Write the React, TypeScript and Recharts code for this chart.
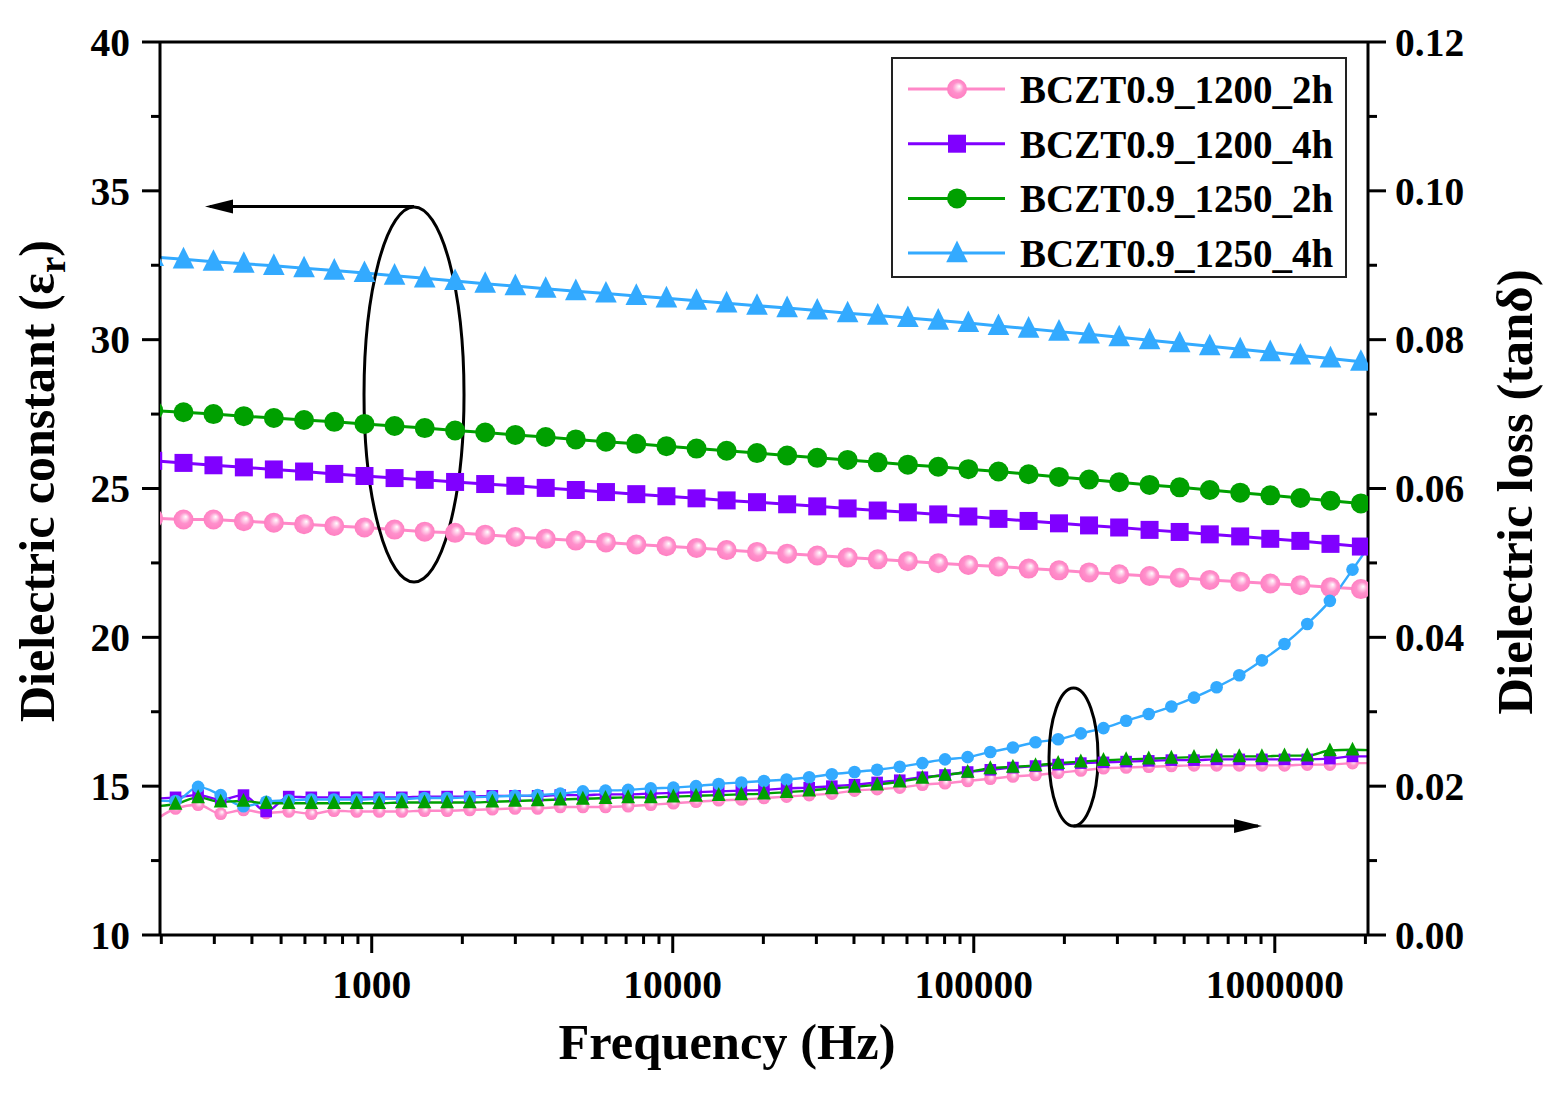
import React from 'react';
import { LineChart, Line, XAxis, YAxis, ReferenceLine, ReferenceDot, Legend } from 'recharts';

const W = 1558;
const H = 1104;
const FONT = '"Liberation Serif", "Times New Roman", serif';

const PINK = '#FF88C8';
const PURPLE = '#8000FF';
const GREEN = '#00A000';
const BLUE = '#33AAFF';

// ---- dielectric constant (left axis) ----
const epsFreq = [
  188,
  237, 298, 376, 473, 596, 751, 946, 1191, 1500, 1892,
  2382, 3000, 3784, 4764, 6000, 7568, 9528, 11995, 15100, 19050,
  23990, 30200, 38100, 47970, 60400, 76200, 95940, 120800, 152100, 191900,
  241500, 304100, 383700, 483100, 608100, 767400, 966000, 1216000, 1531000, 1932000,
  2430000,
];
const eps1200_2h = [
  24.00,
  23.96, 23.96, 23.90, 23.85, 23.80, 23.74, 23.69, 23.62, 23.55, 23.51,
  23.45, 23.37, 23.31, 23.25, 23.19, 23.12, 23.06, 23.00, 22.93, 22.87,
  22.81, 22.75, 22.68, 22.62, 22.56, 22.49, 22.43, 22.38, 22.31, 22.25,
  22.18, 22.12, 22.06, 22.00, 21.93, 21.87, 21.81, 21.75, 21.68, 21.62,
  21.56,
];
const eps1200_4h = [
  25.93,
  25.86, 25.78, 25.71, 25.64, 25.57, 25.49, 25.42, 25.35, 25.29, 25.22,
  25.15, 25.09, 25.02, 24.95, 24.88, 24.81, 24.74, 24.67, 24.60, 24.54,
  24.47, 24.40, 24.33, 24.26, 24.20, 24.13, 24.06, 23.98, 23.91, 23.83,
  23.76, 23.69, 23.61, 23.54, 23.46, 23.39, 23.31, 23.24, 23.14, 23.05,
  22.97,
];
const eps1250_2h = [
  27.62,
  27.56, 27.50, 27.43, 27.37, 27.30, 27.24, 27.17, 27.10, 27.03, 26.95,
  26.88, 26.80, 26.73, 26.65, 26.57, 26.50, 26.42, 26.34, 26.27, 26.19,
  26.11, 26.03, 25.96, 25.88, 25.80, 25.73, 25.65, 25.57, 25.48, 25.39,
  25.30, 25.21, 25.12, 25.04, 24.95, 24.86, 24.77, 24.68, 24.59, 24.50,
  24.41,
];
const eps1250_4h = [
  32.78,
  32.70, 32.62, 32.55, 32.48, 32.40, 32.32, 32.24, 32.15, 32.06, 31.97,
  31.88, 31.80, 31.71, 31.63, 31.55, 31.47, 31.39, 31.31, 31.22, 31.14,
  31.06, 30.98, 30.89, 30.81, 30.73, 30.64, 30.56, 30.46, 30.37, 30.27,
  30.18, 30.08, 29.98, 29.88, 29.78, 29.68, 29.58, 29.47, 29.37, 29.26,
  29.16,
];

// ---- dielectric loss (right axis) ----
const lossFreq = [
  187.5,
  223, 265, 315, 375, 446, 530, 630, 749, 891, 1059,
  1259, 1497, 1780, 2116, 2516, 2992, 3557, 4229, 5029, 5979,
  7109, 8453, 10050, 11950, 14210, 16900, 20090, 23890, 28400, 33770,
  40160, 47750, 56770, 67500, 80260, 95430, 113500, 134900, 160400, 190700,
  226800, 269700, 320700, 381300, 453300, 539000, 640900, 762100, 906100, 1077000,
  1282000, 1524000, 1812000, 2155000,
];
const loss1200_2h = [
  0.0152,
  0.0170, 0.0175, 0.0163, 0.0168, 0.0164, 0.0166, 0.0163, 0.0167, 0.0166, 0.0166,
  0.0166, 0.0167, 0.0167, 0.0168, 0.0169, 0.0170, 0.0170, 0.0172, 0.0172, 0.0172,
  0.0173, 0.0175, 0.0177, 0.0179, 0.0181, 0.0182, 0.0184, 0.0186, 0.0188, 0.0190,
  0.0194, 0.0196, 0.0198, 0.0202, 0.0204, 0.0207, 0.0210, 0.0213, 0.0215, 0.0218,
  0.0221, 0.0224, 0.0225, 0.0226, 0.0227, 0.0228, 0.0228, 0.0228, 0.0228, 0.0228,
  0.0229, 0.0229, 0.0231, 0.0231,
];
const loss1200_4h = [
  0.0183,
  0.0185, 0.0188, 0.0182, 0.0188, 0.0166, 0.0186, 0.0185, 0.0185, 0.0185, 0.0185,
  0.0185, 0.0186, 0.0186, 0.0186, 0.0187, 0.0187, 0.0187, 0.0188, 0.0188, 0.0189,
  0.0189, 0.0190, 0.0191, 0.0192, 0.0193, 0.0194, 0.0195, 0.0197, 0.0198, 0.0200,
  0.0202, 0.0205, 0.0208, 0.0212, 0.0215, 0.0219, 0.0222, 0.0225, 0.0227, 0.0229,
  0.0231, 0.0232, 0.0233, 0.0234, 0.0235, 0.0235, 0.0236, 0.0236, 0.0236, 0.0236,
  0.0236, 0.0237, 0.0240, 0.0240,
];
const loss1250_2h = [
  0.0173,
  0.0176, 0.0185, 0.0179, 0.0180, 0.0177, 0.0177, 0.0177, 0.0177, 0.0177, 0.0177,
  0.0178, 0.0178, 0.0178, 0.0178, 0.0179, 0.0180, 0.0181, 0.0182, 0.0183, 0.0184,
  0.0185, 0.0185, 0.0186, 0.0187, 0.0188, 0.0189, 0.0190, 0.0192, 0.0194, 0.0197,
  0.0199, 0.0202, 0.0206, 0.0211, 0.0215, 0.0219, 0.0224, 0.0226, 0.0228, 0.0231,
  0.0233, 0.0235, 0.0236, 0.0237, 0.0238, 0.0239, 0.0240, 0.0240, 0.0240, 0.0241,
  0.0241, 0.0248, 0.0249, 0.0248,
];
const loss1250_4h = [
  0.0181,
  0.0180, 0.0199, 0.0188, 0.0173, 0.0179, 0.0181, 0.0182, 0.0182, 0.0182, 0.0183,
  0.0183, 0.0184, 0.0184, 0.0185, 0.0186, 0.0187, 0.0188, 0.0190, 0.0193, 0.0194,
  0.0195, 0.0197, 0.0198, 0.0200, 0.0203, 0.0205, 0.0207, 0.0209, 0.0212, 0.0216,
  0.0219, 0.0222, 0.0226, 0.0231, 0.0236, 0.0239, 0.0246, 0.0252, 0.0259, 0.0263,
  0.0271, 0.0278, 0.0288, 0.0297, 0.0307, 0.0319, 0.0333, 0.0349, 0.0369, 0.0391,
  0.0418, 0.0449, 0.0491, 0.0535,
];

const seriesNames = ['BCZT0.9_1200_2h', 'BCZT0.9_1200_4h', 'BCZT0.9_1250_2h', 'BCZT0.9_1250_4h'];

// ---- axis ticks ----
const xTicks = [
  200, 300, 400, 500, 600, 700, 800, 900,
  1000, 2000, 3000, 4000, 5000, 6000, 7000, 8000, 9000,
  10000, 20000, 30000, 40000, 50000, 60000, 70000, 80000, 90000,
  100000, 200000, 300000, 400000, 500000, 600000, 700000, 800000, 900000,
  1000000, 2000000,
];
const xMajor = [1000, 10000, 100000, 1000000];
const yLeftTicks = [10, 12.5, 15, 17.5, 20, 22.5, 25, 27.5, 30, 32.5, 35, 37.5, 40];
const yRightTicks = [0, 0.01, 0.02, 0.03, 0.04, 0.05, 0.06, 0.07, 0.08, 0.09, 0.1, 0.11, 0.12];

const toPoints = (freqs: number[], vals: number[]) =>
  vals.map((v, i) => ({ f: freqs[i], v }));

type Kind = 'ball' | 'circle' | 'square' | 'triangle';

const BallGradient = ({ id }: { id: string }) => (
  <defs>
    <radialGradient id={id} cx="50%" cy="50%" r="50%" fx="62%" fy="36%">
      <stop offset="0%" stopColor="#FFFFFF" />
      <stop offset="22%" stopColor="#FFD2EA" />
      <stop offset="55%" stopColor="#FF90CC" />
      <stop offset="100%" stopColor="#FF80C2" />
    </radialGradient>
  </defs>
);

function marker(kind: Kind, cx: number, cy: number, size: number, color: string, gradId: string) {
  if (kind === 'ball') return <circle cx={cx} cy={cy} r={size} fill={`url(#${gradId})`} />;
  if (kind === 'circle') return <circle cx={cx} cy={cy} r={size} fill={color} />;
  if (kind === 'square')
    return <rect x={cx - size} y={cy - size} width={2 * size} height={2 * size} fill={color} />;
  const h = size * 2.1;
  const w = size * 2.1;
  return (
    <polygon
      points={`${cx},${cy - 0.58 * h} ${cx + w / 2},${cy + 0.42 * h} ${cx - w / 2},${cy + 0.42 * h}`}
      fill={color}
    />
  );
}

const makeDot = (kind: Kind, size: number, color: string, gradId: string) => (props: any) => {
  const { cx, cy, index } = props;
  if (cx == null || cy == null) return <g key={`e${index}`} />;
  return (
    <g key={`d${index}`}>
      {index === 0 && kind === 'ball' ? <BallGradient id={gradId} /> : null}
      {marker(kind, cx, cy, size, color, gradId)}
    </g>
  );
};

const epsSeries = [
  { name: seriesNames[0], vals: eps1200_2h, color: PINK, kind: 'ball' as Kind, size: 10 },
  { name: seriesNames[1], vals: eps1200_4h, color: PURPLE, kind: 'square' as Kind, size: 9 },
  { name: seriesNames[2], vals: eps1250_2h, color: GREEN, kind: 'circle' as Kind, size: 10 },
  { name: seriesNames[3], vals: eps1250_4h, color: BLUE, kind: 'triangle' as Kind, size: 10.3 },
];
const lossSeries = [
  { name: seriesNames[0] + ' loss', vals: loss1200_2h, color: PINK, kind: 'ball' as Kind, size: 6.3 },
  { name: seriesNames[1] + ' loss', vals: loss1200_4h, color: PURPLE, kind: 'square' as Kind, size: 5.8 },
  { name: seriesNames[3] + ' loss', vals: loss1250_4h, color: BLUE, kind: 'circle' as Kind, size: 6.3 },
  { name: seriesNames[2] + ' loss', vals: loss1250_2h, color: GREEN, kind: 'triangle' as Kind, size: 6.6 },
];

const textStyle = { fontFamily: FONT, fontWeight: 700, fill: '#000' } as const;
const TICK_FS = 39.5;

const XTick = (props: any) => {
  const { x, y, payload } = props;
  const v = payload.value;
  const major = xMajor.includes(v);
  return (
    <g>
      <line x1={x} x2={x} y1={y} y2={y + (major ? 18 : 9)} stroke="#000" strokeWidth={3} />
      {major ? (
        <text x={x} y={y + 63} textAnchor="middle" fontSize={TICK_FS} {...textStyle}>
          {String(v)}
        </text>
      ) : null}
    </g>
  );
};

const LeftTick = (props: any) => {
  const { x, y, payload } = props;
  const v = payload.value;
  const major = v % 5 === 0;
  return (
    <g>
      <line x1={x} x2={x - (major ? 18 : 9)} y1={y} y2={y} stroke="#000" strokeWidth={3} />
      {major ? (
        <text x={x - 30} y={y} dy="0.35em" textAnchor="end" fontSize={TICK_FS} {...textStyle}>
          {String(v)}
        </text>
      ) : null}
    </g>
  );
};

const RightTick = (props: any) => {
  const { x, y, payload } = props;
  const v = payload.value;
  const major = Math.round(v * 100) % 2 === 0;
  return (
    <g>
      <line x1={x} x2={x + (major ? 18 : 9)} y1={y} y2={y} stroke="#000" strokeWidth={3} />
      {major ? (
        <text x={x + 27} y={y} dy="0.35em" textAnchor="start" fontSize={TICK_FS} {...textStyle}>
          {v.toFixed(2)}
        </text>
      ) : null}
    </g>
  );
};

const XLabel = () => (
  <text x={727} y={1059} textAnchor="middle" fontSize={50.5} {...textStyle}>
    Frequency (Hz)
  </text>
);

const LeftLabel = () => (
  <text x={54} y={481} transform="rotate(-90 54 481)" textAnchor="middle" fontSize={50} {...textStyle}>
    Dielectric constant (ε
    <tspan fontSize={37} dy={11}>r</tspan>
    <tspan dy={-11}>)</tspan>
  </text>
);

const RightLabel = () => (
  <text x={1532} y={492} transform="rotate(-90 1532 492)" textAnchor="middle" fontSize={51} {...textStyle}>
    Dielectric loss (tanδ)
  </text>
);

const LegendBox = () => (
  <div
    style={{
      width: 456,
      height: 221,
      border: '2px solid #222',
      boxSizing: 'border-box',
      background: '#fff',
    }}
  >
    <svg width={452} height={217} style={{ display: 'block' }}>
      <BallGradient id="legendBall" />
      {epsSeries.map((s, i) => {
        const cy = 30 + i * 54.7;
        return (
          <g key={s.name}>
            <line x1={15} x2={112} y1={cy} y2={cy} stroke={s.color} strokeWidth={3} />
            {marker(s.kind, 64, cy, s.size, s.color, 'legendBall')}
            <text x={127} y={cy + 14} fontSize={39} {...textStyle}>
              {s.name}
            </text>
          </g>
        );
      })}
    </svg>
  </div>
);

const Ellipse = (rx: number, ry: number) => (props: any) => (
  <ellipse cx={props.cx} cy={props.cy} rx={rx} ry={ry} fill="none" stroke="#000" strokeWidth={3} />
);
const ArrowHead = (dir: number) => (props: any) => {
  const { cx, cy } = props;
  return (
    <polygon
      points={`${cx},${cy} ${cx - dir * 28},${cy - 7} ${cx - dir * 28},${cy + 7}`}
      fill="#000"
    />
  );
};

export default function App() {
  return (
    <div style={{ position: 'absolute', left: 0, top: 0, width: W, height: H, background: '#fff' }}>
      <LineChart width={W} height={H} margin={{ top: 42, right: 0, bottom: 0, left: 0 }}>
        <XAxis
          xAxisId="x"
          type="number"
          dataKey="f"
          scale="log"
          domain={[198, 2040000]}
          allowDataOverflow
          ticks={xTicks}
          interval={0}
          tick={XTick}
          tickLine={false}
          tickSize={0}
          tickMargin={0}
          height={169}
          axisLine={{ stroke: '#000', strokeWidth: 3 }}
          label={{ content: XLabel }}
        />
        <YAxis
          yAxisId="left"
          orientation="left"
          type="number"
          domain={[10, 40]}
          ticks={yLeftTicks}
          interval={0}
          tick={LeftTick}
          tickLine={false}
          tickSize={0}
          tickMargin={0}
          width={160}
          axisLine={{ stroke: '#000', strokeWidth: 3 }}
          label={{ content: LeftLabel }}
        />
        <YAxis
          yAxisId="right"
          orientation="right"
          type="number"
          domain={[0, 0.12]}
          ticks={yRightTicks}
          interval={0}
          tick={RightTick}
          tickLine={false}
          tickSize={0}
          tickMargin={0}
          width={190}
          axisLine={{ stroke: '#000', strokeWidth: 3 }}
          label={{ content: RightLabel }}
        />
        <ReferenceLine xAxisId="x" yAxisId="left" y={40} stroke="#000" strokeWidth={3} />

        {epsSeries.map((s, i) => (
          <Line
            key={s.name}
            xAxisId="x"
            yAxisId="left"
            data={toPoints(epsFreq, s.vals)}
            dataKey="v"
            name={s.name}
            type="linear"
            stroke={s.color}
            strokeWidth={3}
            dot={makeDot(s.kind, s.size, s.color, `ballE${i}`)}
            activeDot={false}
            isAnimationActive={false}
            legendType="none"
          />
        ))}
        {lossSeries.map((s, i) => (
          <Line
            key={s.name}
            xAxisId="x"
            yAxisId="right"
            data={toPoints(lossFreq, s.vals)}
            dataKey="v"
            name={s.name}
            type="monotone"
            stroke={s.color}
            strokeWidth={2.4}
            dot={makeDot(s.kind, s.size, s.color, `ballL${i}`)}
            activeDot={false}
            isAnimationActive={false}
            legendType="none"
          />
        ))}

        <ReferenceDot xAxisId="x" yAxisId="left" x={1382} y={28.158} shape={Ellipse(50, 187.5)} />
        <ReferenceLine
          xAxisId="x"
          yAxisId="left"
          segment={[{ x: 1382, y: 34.474 }, { x: 290, y: 34.474 }]}
          stroke="#000"
          strokeWidth={3}
        />
        <ReferenceDot xAxisId="x" yAxisId="left" x={279.3} y={34.474} shape={ArrowHead(-1)} />

        <ReferenceDot xAxisId="x" yAxisId="left" x={214500} y={15.98} shape={Ellipse(24.5, 69)} />
        <ReferenceLine
          xAxisId="x"
          yAxisId="left"
          segment={[{ x: 214500, y: 13.662 }, { x: 880000, y: 13.662 }]}
          stroke="#000"
          strokeWidth={3}
        />
        <ReferenceDot xAxisId="x" yAxisId="left" x={907000} y={13.662} shape={ArrowHead(1)} />

        <Legend
          layout="vertical"
          align="center"
          verticalAlign="middle"
          content={LegendBox}
          wrapperStyle={{ position: 'absolute', left: 891, top: 57, width: 456, height: 221 }}
        />
      </LineChart>
    </div>
  );
}
